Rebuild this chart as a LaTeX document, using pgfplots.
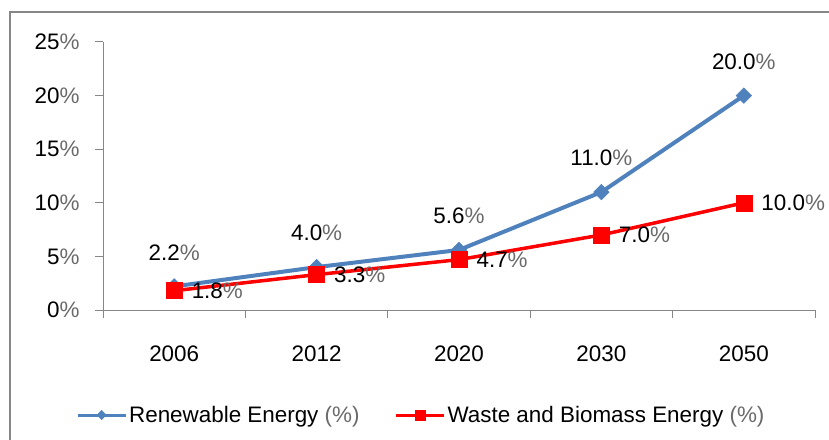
\documentclass[border=0pt]{standalone}
\usepackage{fontspec}
\setmainfont{Liberation Sans}
\usepackage{pgfplots}
\pgfplotsset{compat=1.18}
\definecolor{rblue}{HTML}{4F81BD}
\definecolor{rred}{HTML}{FF0000}
\definecolor{axgray}{HTML}{868686}
\definecolor{pgray}{HTML}{6A6A6A}
\newcommand{\pc}{\textcolor{pgray}{\%}}
\begin{document}
\begin{tikzpicture}
\begin{axis}[
  at={(103bp,130bp)}, anchor=south west,
  scale only axis, width=712bp, height=268bp,
  xmin=-0.5, xmax=4.5, ymin=0, ymax=25,
  axis x line=bottom, axis y line=left,
  axis line style={-, draw=axgray, line width=1bp},
  tick align=outside,
  major tick length=8bp,
  tick style={draw=axgray, line width=1bp},
  xtick={-0.5,0.5,1.5,2.5,3.5,4.5},
  xticklabels={},
  extra x ticks={0,1,2,3,4},
  extra x tick labels={2006,2012,2020,2030,2050},
  extra x tick style={major tick length=0pt, xticklabel style={yshift=-32bp}},
  ytick={0,5,10,15,20,25},
  yticklabels={0\pc,5\pc,10\pc,15\pc,20\pc,25\pc},
  yticklabel style={xshift=-12bp},
  ticklabel style={font=\fontsize{22.5}{26}\selectfont, black},
  clip=false,
  point meta=explicit symbolic,
  nodes near coords={\pgfplotspointmeta\pc},
  every node near coord/.append style={font=\fontsize{22.5}{26}\selectfont, black},
  legend image code/.code={\draw[mark repeat=2,mark phase=2,#1] plot coordinates {(0bp,0bp)(24bp,0bp)(48bp,0bp)};},
  legend style={at={(0.447,-0.392)}, anchor=center, draw=none, fill=none,
    legend columns=2, font=\fontsize{22.5}{26}\selectfont,
    /tikz/every even column/.append style={column sep=33bp}},
]
\addplot[rblue, line width=4bp, mark=square*, mark size=5.5bp,
  mark options={rotate=45, line width=0.5bp, fill=rblue, draw=rblue},
  every node near coord/.append style={anchor=center, yshift=34bp},
  forget plot] coordinates {
  (0,2.2) [2.2]
  (1,4.0) [4.0]
  (2,5.6) [5.6]
  (3,11.0) [11.0]
  (4,20.0) [20.0]
};
\addplot[rred, line width=3.5bp, mark=square*, mark size=8bp,
  mark options={line width=0.5bp, fill=rred, draw=rred},
  every node near coord/.append style={anchor=west, xshift=14bp},
  forget plot] coordinates {
  (0,1.8) [1.8]
  (1,3.3) [3.3]
  (2,4.7) [4.7]
  (3,7.0) [7.0]
  (4,10.0) [10.0]
};
\addlegendimage{rblue, line width=3bp, mark=square*, mark size=3.3bp, mark options={rotate=45, line width=0.5bp, fill=rblue, draw=rblue}}
\addlegendentry{Renewable Energy \textcolor{pgray}{(}\pc\textcolor{pgray}{)}}
\addlegendimage{rred, line width=3bp, mark=square*, mark size=5bp, mark options={line width=0.5bp, fill=rred, draw=rred}}
\addlegendentry{Waste and Biomass Energy \textcolor{pgray}{(}\pc\textcolor{pgray}{)}}
\end{axis}
\draw[axgray, line width=1.5bp] (10bp,-10bp) -- (10bp,428bp) -- (840bp,428bp);
\pgfresetboundingbox
\path[use as bounding box] (0,0) rectangle (829bp,440bp);
\end{tikzpicture}
\end{document}
